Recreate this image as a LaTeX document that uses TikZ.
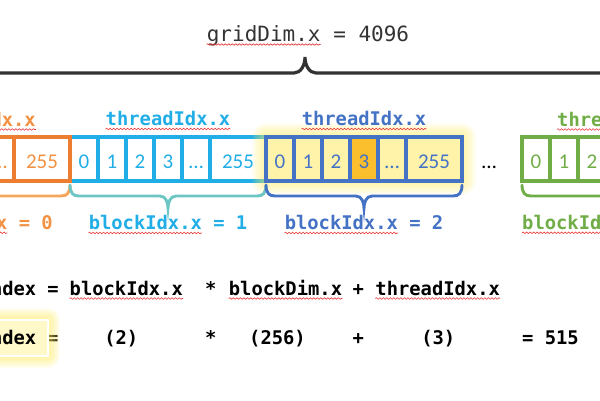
\documentclass[tikz,border=0pt]{standalone}
\usepackage{fontspec}
\setmonofont{DejaVu Sans Mono}
\newfontfamily\cellfont{Carlito}
\usepackage{tikz}
\usetikzlibrary{positioning, calc, fit, decorations.pathmorphing}
\definecolor{myorange}{RGB}{237,125,49}
\definecolor{orangetxt}{RGB}{243,145,66}
\definecolor{braceorange}{RGB}{246,166,90}
\definecolor{mycyan}{RGB}{33,174,230}
\definecolor{braceteal}{RGB}{108,198,196}
\definecolor{myblue}{RGB}{68,114,196}
\definecolor{mygreen}{RGB}{112,173,71}
\definecolor{cellyellow}{RGB}{255,243,170}
\definecolor{cellgold}{RGB}{251,190,45}
\definecolor{glowyellow}{RGB}{255,236,100}
\definecolor{idxyellow}{RGB}{255,248,200}
\definecolor{mydark}{RGB}{51,51,51}
\definecolor{spellred}{RGB}{230,50,50}
\tikzset{
  tcell/.style={rectangle, draw, line width=3.2pt, minimum width=28pt,
    minimum height=44pt, inner sep=0pt, outer sep=0pt,
    text height=18pt, text depth=0pt,
    font=\cellfont\fontsize{21}{21}\selectfont},
  widecell/.style={tcell, minimum width=56pt},
  gapdots/.style={inner sep=0pt, text height=18pt, text depth=0pt,
    font=\cellfont\fontsize{21}{21}\selectfont},
  blockfit/.style={inner sep=0pt, outer sep=0pt},
  lbl/.style={inner sep=0pt, font=\ttfamily\bfseries\fontsize{18.8}{20}\selectfont},
  eqn/.style={lbl, anchor=base, text=black},
  titletext/.style={inner sep=0pt, text=mydark,
    font=\ttfamily\fontsize{21}{24}\selectfont},
  blockbrace/.style={line width=2.9pt, line cap=round, to path={
    ($(\tikztostart)+(0,-4)$) .. controls +(0,-8) and +(-6,0) .. ($(\tikztostart)+(9,-15)$)
    -- ($(\tikztostart)!0.5!(\tikztotarget)+(-8,-15)$)
    .. controls +(6,0) and +(0,5) .. ($(\tikztostart)!0.5!(\tikztotarget)+(0,-27)$)
    .. controls +(0,5) and +(-6,0) .. ($(\tikztostart)!0.5!(\tikztotarget)+(8,-15)$)
    -- ($(\tikztotarget)+(-9,-15)$)
    .. controls +(6,0) and +(0,-8) .. ($(\tikztotarget)+(0,-4)$)}},
  gridbrace/.style={line width=3.2pt, draw=mydark},
  spell/.style={draw=spellred, line width=0.6pt, decorate,
    decoration={snake, segment length=3.5pt, amplitude=0.8pt}},
  halo/.style={fill=glowyellow, opacity=0.055}
}

\begin{document}
\begin{tikzpicture}[x=1pt, y=1pt]
  \useasboundingbox (0,0) rectangle (600,400);
  \clip (0,0) rectangle (600,400);

  % gridDim brace over everything
  \node[titletext, anchor=base] (grid) at (308,359) {gridDim.x = 4096};
  \coordinate (gl) at (-20,327);
  \coordinate (gr) at (620,327);
  \coordinate (gtip) at (305,343);
  \draw[gridbrace] (gl) -- ($(gtip)+(-11,-16)$) .. controls +(7,0) and +(0,-8) .. (gtip)
    .. controls +(0,-8) and +(-7,0) .. ($(gtip)+(11,-16)$) -- (gr);
  \draw[spell] ($(grid.base west)+(0,-3.5)$) -- ($(grid.base west)!0.5625!(grid.base east)+(0,-3.5)$);

  % block 1 (cyan)
  \node[tcell, draw=mycyan, text=mycyan, anchor=west] (c0) at (70,241) {0};
  \node[tcell, draw=mycyan, text=mycyan, right=0pt of c0] (c1) {1};
  \node[tcell, draw=mycyan, text=mycyan, right=0pt of c1] (c2) {2};
  \node[tcell, draw=mycyan, text=mycyan, right=0pt of c2] (c3) {3};
  \node[tcell, draw=mycyan, text=mycyan, right=0pt of c3] (c4) {…};
  \node[widecell, draw=mycyan, text=mycyan, right=0pt of c4] (c5) {255};
  \node[blockfit, fit=(c0)(c5)] (cblk) {};

  % block 0 (orange), cut by the left edge
  \node[widecell, draw=myorange, text=orangetxt, left=0pt of c0] (o5) {255};
  \node[tcell, draw=myorange, text=orangetxt, left=0pt of o5] (o4) {…};
  \coordinate (o0) at (-126,219);

  % glow round block 2
  \coordinate (bsw) at (266,219);
  \foreach \g in {1,...,14}
    \fill[halo, rounded corners=\g pt] ($(bsw)+(-\g,-\g)$) rectangle ($(bsw)+(196+\g,44+\g)$);

  % block 2 (blue, highlighted)
  \node[tcell, draw=myblue, text=myblue, fill=cellyellow, right=0pt of c5] (b0) {0};
  \node[tcell, draw=myblue, text=myblue, fill=cellyellow, right=0pt of b0] (b1) {1};
  \node[tcell, draw=myblue, text=myblue, fill=cellyellow, right=0pt of b1] (b2) {2};
  \node[tcell, draw=myblue, text=myblue, fill=cellgold, right=0pt of b2] (b3) {3};
  \node[tcell, draw=myblue, text=myblue, fill=cellyellow, right=0pt of b3] (b4) {…};
  \node[widecell, draw=myblue, text=myblue, fill=cellyellow, right=0pt of b4] (b5) {255};
  \node[blockfit, fit=(b0)(b5)] (bblk) {};

  \node[gapdots] (gap) at (489,241) {…};

  % last block (green), cut by the right edge
  \node[tcell, draw=mygreen, text=mygreen, anchor=west] (g0) at (522,241) {0};
  \node[tcell, draw=mygreen, text=mygreen, right=0pt of g0] (g1) {1};
  \node[tcell, draw=mygreen, text=mygreen, right=0pt of g1] (g2) {2};
  \coordinate (g5) at (718,219);

  % braces under the blocks
  \draw[blockbrace, draw=braceorange] (o0) to (o5.south east);
  \draw[blockbrace, draw=braceteal] (c0.south west) to (c5.south east);
  \draw[blockbrace, draw=myblue] (b0.south west) to (b5.south east);
  \draw[blockbrace, draw=mygreen] (g0.south west) to (g5);

  % threadIdx.x labels
  \node[lbl, text=orangetxt, anchor=base east] (otid) at (36,274) {dx.x};
  \node[lbl, text=mycyan, above=11pt of cblk] (ctid) {threadIdx.x};
  \node[lbl, text=myblue, above=11pt of bblk] (btid) {threadIdx.x};
  \node[lbl, text=mygreen, anchor=base west] (gtid) at (557,274) {thre};

  % blockIdx.x labels
  \node[lbl, text=orangetxt, anchor=base east] (obid) at (53,170.7) {x = 0};
  \node[lbl, text=mycyan, below=34pt of cblk] (cbid) {blockIdx.x = 1};
  \node[lbl, text=myblue, below=34pt of bblk] (bbid) {blockIdx.x = 2};
  \node[lbl, text=mygreen, anchor=base west] (gbid) at (522,170.7) {blockId};

  \draw[spell] ($(otid.base west)+(0,-3.5)$) -- ($(otid.base east)+(0,-3.5)$);
  \draw[spell] ($(ctid.base west)+(0,-3.5)$) -- ($(ctid.base east)+(0,-3.5)$);
  \draw[spell] ($(btid.base west)+(0,-3.5)$) -- ($(btid.base east)+(0,-3.5)$);
  \draw[spell] ($(gtid.base west)+(0,-3.5)$) -- ($(gtid.base east)+(0,-3.5)$);
  \draw[spell] ($(obid.base west)+(0,-3.5)$) -- ($(obid.base west)!0.2!(obid.base east)+(0,-3.5)$);
  \draw[spell] ($(cbid.base west)+(0,-3.5)$) -- ($(cbid.base west)!0.714!(cbid.base east)+(0,-3.5)$);
  \draw[spell] ($(bbid.base west)+(0,-3.5)$) -- ($(bbid.base west)!0.714!(bbid.base east)+(0,-3.5)$);
  \draw[spell] ($(gbid.base west)+(0,-3.5)$) -- ($(gbid.base east)+(0,-3.5)$);

  % formula
  \node[eqn, anchor=base east] (l1idx) at (36.5,105) {ndex};
  \node[eqn] (l1eq) at (53,105) {=};
  \node[eqn] (l1bid) at (126.3,105) {blockIdx.x};
  \node[eqn] (l1mul) at (210.7,105) {*};
  \node[eqn] (l1bdim) at (285.5,105) {blockDim.x};
  \node[eqn] (l1add) at (358.3,105) {+};
  \node[eqn] (l1tid) at (437.7,105) {threadIdx.x};
  \draw[spell] ($(l1bid.base west)+(0,-3.5)$) -- ($(l1bid.base east)+(0,-3.5)$);
  \draw[spell] ($(l1bdim.base west)+(0,-3.5)$) -- ($(l1bdim.base east)+(0,-3.5)$);
  \draw[spell] ($(l1tid.base west)+(0,-3.5)$) -- ($(l1tid.base east)+(0,-3.5)$);

  % worked example, index highlighted
  \node[eqn] (l2eq) at (52.7,56) {=};
  \coordinate (isw) at (-10,44);
  \foreach \g in {1,...,12}
    \fill[halo, opacity=0.07, rounded corners=\g pt] ($(isw)+(-\g,-\g)$) rectangle ($(isw)+(58+\g,36+\g)$);
  \fill[idxyellow, draw=white, line width=1.2pt] (isw) rectangle ++(58,36);
  \node[eqn, anchor=base east] (l2idx) at (36.5,56) {ndex};
  \node[eqn] (l2bid) at (121.3,56) {(2)};
  \node[eqn] (l2mul) at (210.7,56) {*};
  \node[eqn] (l2bdim) at (277.5,56) {(256)};
  \node[eqn] (l2add) at (358.3,56) {+};
  \node[eqn] (l2tid) at (438.3,56) {(3)};
  \node[eqn] (l2res) at (550.5,56) {= 515};
\end{tikzpicture}
\end{document}
